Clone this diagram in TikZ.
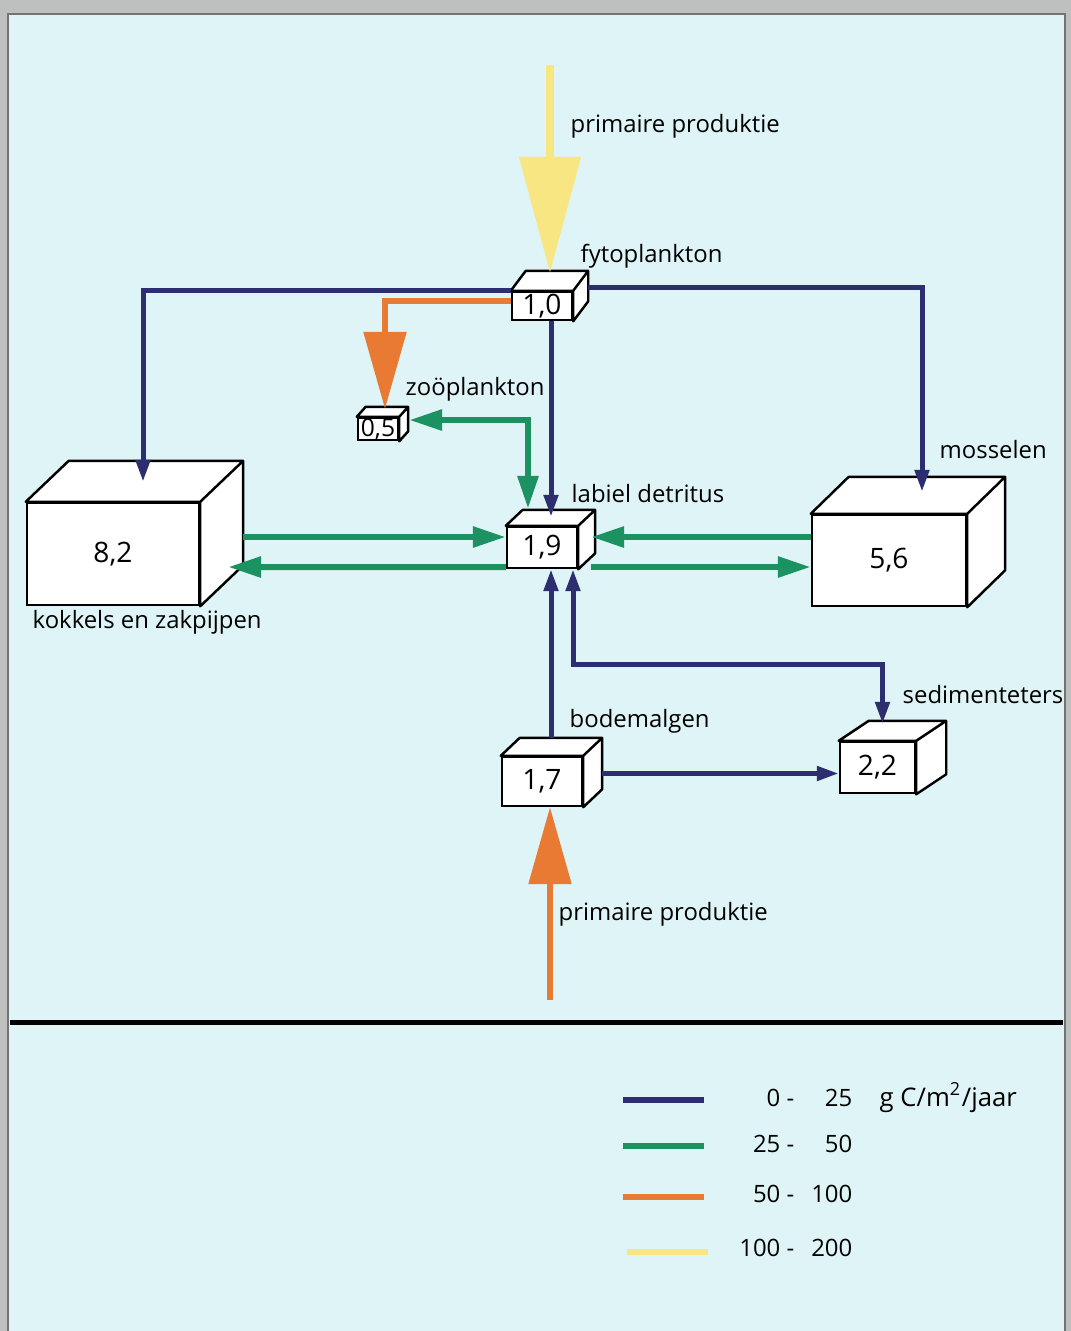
\documentclass[tikz,border=0pt]{standalone}
\usepackage{fontspec}
\setmainfont{Open Sans}
\usepackage{tikz}
\usetikzlibrary{arrows.meta, calc}
\definecolor{panelcyan}{RGB}{223,244,246}
\definecolor{framegray}{RGB}{190,192,192}
\definecolor{flownavy}{RGB}{44,46,112}
\definecolor{flowgreen}{RGB}{28,146,98}
\definecolor{floworange}{RGB}{232,122,52}
\definecolor{flowyellow}{RGB}{248,230,130}
\tikzset{
  cubebox/.style={rectangle, draw=black, line width=0.7pt, fill=white, inner sep=0pt, align=center,
    font=\fontsize{8}{9}\selectfont},
  cubeface/.style={draw=black, line width=0.7pt, fill=white, line join=round},
  namelabel/.style={anchor=base west, inner sep=0pt},
  legendtext/.style={anchor=base east, inner sep=0pt},
  navyflow/.style={color=flownavy, line width=0.5mm, -{Triangle[length=2.2mm, width=1.4mm]}},
  navyboth/.style={navyflow, {Triangle[length=2.2mm, width=1.4mm]}-{Triangle[length=2.2mm, width=1.4mm]}},
  greenflow/.style={color=flowgreen, line width=0.6mm, -{Triangle[length=3.3mm, width=2mm]}},
  greenboth/.style={greenflow, {Triangle[length=3.3mm, width=2mm]}-{Triangle[length=3.3mm, width=2mm]}},
  orangeflow/.style={color=floworange, line width=0.55mm, -{Triangle[length=7.7mm, width=4.2mm]}},
  yellowflow/.style={color=flowyellow, line width=0.8mm, -{Triangle[length=11.6mm, width=6mm]}},
  legendline/.style={line width=0.6mm}
}
% top and side faces of a compartment box
\newcommand{\cubefaces}[3]{%
  \filldraw[cubeface] (#1.north west) -- ++(#2,#3) -- ([shift={(#2,#3)}]#1.north east)
    -- ([shift={(#2,#3)}]#1.south east) -- (#1.south east) -- (#1.north east) -- cycle
    (#1.north east) -- ++(#2,#3);
}
\begin{document}
\begin{tikzpicture}[x=0.1mm, y=-0.1mm, font=\fontsize{6.8}{8}\selectfont]
  \useasboundingbox (0,0) rectangle (1071,1331);
  \fill[framegray] (0,0) rectangle (1071,1331);
  \filldraw[fill=panelcyan, draw=black!55, line width=0.3pt] (8,14) rectangle (1065,1345);
  \draw[line width=0.5mm] (10,1022) -- (1063,1022);

  % compartments
  \node[cubebox, minimum width=6mm, minimum height=2.8mm] (fyto) at (542,306) {1,0};
  \cubefaces{fyto}{15}{-20}
  \node[cubebox, minimum width=4mm, minimum height=2.2mm, font=\fontsize{7}{8}\selectfont] (zoo) at (378,429) {0,5};
  \cubefaces{zoo}{9}{-10}
  \node[cubebox, minimum width=7mm, minimum height=4.1mm] (lab) at (542,547.5) {1,9};
  \cubefaces{lab}{17}{-16}
  \node[cubebox, minimum width=17.2mm, minimum height=10.2mm] (kok) at (113,554) {8,2};
  \cubefaces{kok}{43}{-41}
  \node[cubebox, minimum width=15.4mm, minimum height=9.1mm] (mos) at (889,560.5) {5,6};
  \cubefaces{mos}{38}{-37}
  \node[cubebox, minimum width=8mm, minimum height=4.9mm] (bod) at (542,781.5) {1,7};
  \cubefaces{bod}{19}{-18}
  \node[cubebox, minimum width=7.5mm, minimum height=5.1mm] (sed) at (877.5,767.5) {2,2};
  \cubefaces{sed}{30}{-20}

  % names
  \node[namelabel] (ppTopLabel) at (570,132) {primaire produktie};
  \node[namelabel] (fytoLabel) at (580,262) {fytoplankton};
  \node[namelabel] (zooLabel) at (405,395) {zoöplankton};
  \node[namelabel] (labLabel) at (571,502) {labiel detritus};
  \node[namelabel] (mosLabel) at (939,458) {mosselen};
  \node[namelabel] (kokLabel) at (32,628) {kokkels en zakpijpen};
  \node[namelabel] (sedLabel) at (902,703) {sedimenteters};
  \node[namelabel] (bodLabel) at (569,727) {bodemalgen};
  \node[namelabel] (ppBotLabel) at (558,920) {primaire produktie};

  % flows
  \coordinate (ppTop) at (550,65);
  \coordinate (ppBot) at (550,1000);
  \draw[yellowflow] (ppTop) -- ([shift={(8,-18)}]fyto.north);
  \draw[orangeflow] (ppBot) -- ([shift={(8,0)}]bod.south);
  \draw[orangeflow] ([shift={(0,-5)}]fyto.west) -| ([shift={(7,-8)}]zoo.north);
  \draw[navyflow] (fyto.north west) -| ([shift={(30,-20)}]kok.north);
  \draw[navyflow] ([shift={(15,-3)}]fyto.north east) -| ([shift={(33,-22)}]mos.north);
  \draw[navyflow] ([shift={(9,0)}]fyto.south) -- ([shift={(9,-9)}]lab.north);
  \draw[navyflow] ([shift={(9,-18)}]bod.north) -- ([shift={(9,0)}]lab.south);
  \draw[navyboth] ([shift={(31,0)}]lab.south) -- ++(0,95) -| ([shift={(5,-17)}]sed.north);
  \draw[navyflow] ([shift={(19,-8)}]bod.east) -- ([shift={(0,6)}]sed.west);
  \draw[greenflow] ([shift={(43,-17)}]kok.east) -- ([shift={(0,-10.5)}]lab.west);
  \draw[greenflow] ([shift={(0,19.5)}]lab.west) -- ([shift={(28,13)}]kok.east);
  \draw[greenflow] ([shift={(0,-23.5)}]mos.west) -- ([shift={(13,-10.5)}]lab.east);
  \draw[greenflow] ([shift={(13,19.5)}]lab.east) -- ([shift={(0,6.5)}]mos.west);
  \draw[greenboth] ([shift={(10,-9)}]zoo.east) -| ([shift={(-14,-17)}]lab.north);

  % legend
  \draw[legendline, flownavy] (623,1100) -- (704,1100);
  \node[legendtext] (navyLow) at (795,1106) {0 -};
  \node[legendtext] (navyHigh) at (853,1106) {25};
  \node[anchor=base west, inner sep=0pt, font=\fontsize{7.3}{8}\selectfont] (unitText) at (879,1106) {g C/m\textsuperscript{2}/jaar};
  \draw[legendline, flowgreen] (623,1146) -- (704,1146);
  \node[legendtext] (greenLow) at (795,1152) {25 -};
  \node[legendtext] (greenHigh) at (853,1152) {50};
  \draw[legendline, floworange] (623,1197) -- (704,1197);
  \node[legendtext] (orangeLow) at (795,1202) {50 -};
  \node[legendtext] (orangeHigh) at (853,1202) {100};
  \draw[legendline, flowyellow] (627,1252) -- (708,1252);
  \node[legendtext] (yellowLow) at (795,1256) {100 -};
  \node[legendtext] (yellowHigh) at (853,1256) {200};
\end{tikzpicture}
\end{document}
